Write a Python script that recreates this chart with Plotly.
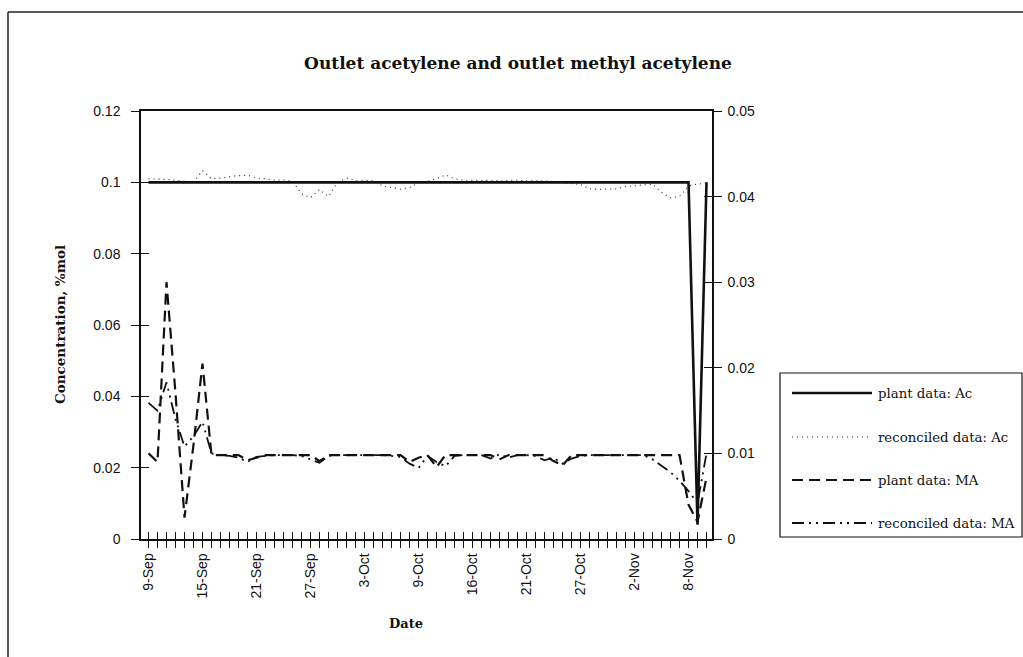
import plotly.graph_objects as go
import pandas as pd

# ---------------- data ----------------
dates = pd.date_range("2001-09-09", "2001-11-10", freq="D")
tick_labels = ["9-Sep", "15-Sep", "21-Sep", "27-Sep", "3-Oct", "9-Oct",
               "16-Oct", "21-Oct", "27-Oct", "2-Nov", "8-Nov"]
tick_dates = list(dates[0:61:6])

plant_ac = [0.1] * 61 + [0.004, 0.1]

recon_ac = [0.1010, 0.1010, 0.1008, 0.1006, 0.1002, 0.1000, 0.1033, 0.1010, 0.1012, 0.1016,
            0.1019, 0.1020, 0.1012, 0.1010, 0.1006, 0.1007, 0.1003, 0.0968, 0.0957, 0.0980,
            0.0960, 0.1000, 0.1012, 0.1006, 0.1005, 0.1004, 0.0990, 0.0986, 0.0981, 0.0985,
            0.0998, 0.1003, 0.1010, 0.1021, 0.1010, 0.1006, 0.1005, 0.1005, 0.1006, 0.1004,
            0.1005, 0.1006, 0.1004, 0.1005, 0.1004, 0.1002, 0.1000, 0.0996, 0.0994, 0.0982,
            0.0980, 0.0981, 0.0982, 0.0988, 0.0990, 0.0993, 0.0995, 0.0972, 0.0957, 0.0960,
            0.0990, 0.0995, 0.0998]

plant_ma = [0.0100, 0.0090, 0.0300, 0.0170, 0.0025, 0.0110, 0.0205, 0.0098, 0.0098, 0.0098,
            0.0098, 0.0092, 0.0095, 0.0098, 0.0098, 0.0098, 0.0098, 0.0098, 0.0098, 0.0091,
            0.0098, 0.0098, 0.0098, 0.0098, 0.0098, 0.0098, 0.0098, 0.0098, 0.0098, 0.0090,
            0.0095, 0.0098, 0.0084, 0.0098, 0.0098, 0.0098, 0.0098, 0.0098, 0.0098, 0.0093,
            0.0098, 0.0098, 0.0098, 0.0098, 0.0098, 0.0091, 0.0086, 0.0098, 0.0098, 0.0098,
            0.0098, 0.0098, 0.0098, 0.0098, 0.0098, 0.0098, 0.0098, 0.0098, 0.0098, 0.0098,
            0.0040, 0.0020, 0.0072]

recon_ma = [0.0159, 0.0150, 0.0183, 0.0140, 0.0108, 0.0120, 0.0137, 0.0100, 0.0098, 0.0097,
            0.0095, 0.0090, 0.0096, 0.0097, 0.0098, 0.0098, 0.0098, 0.0097, 0.0093, 0.0089,
            0.0097, 0.0098, 0.0098, 0.0098, 0.0098, 0.0098, 0.0098, 0.0097, 0.0096, 0.0088,
            0.0083, 0.0097, 0.0090, 0.0085, 0.0097, 0.0098, 0.0098, 0.0098, 0.0094, 0.0099,
            0.0095, 0.0098, 0.0098, 0.0097, 0.0092, 0.0095, 0.0088, 0.0094, 0.0097, 0.0098,
            0.0098, 0.0098, 0.0098, 0.0098, 0.0098, 0.0098, 0.0093, 0.0086, 0.0078, 0.0068,
            0.0056, 0.0042, 0.0100]

series_names = ["plant data: Ac", "reconciled data: Ac", "plant data: MA", "reconciled data: MA"]

# ---------------- geometry helpers ----------------
W, H = 1023, 657
L, R, T, B = 141, 712, 111, 539


def px(x):
    return (x - L) / (R - L)


def py(y):
    return (B - y) / (B - T)


day = pd.Timedelta(days=1)
x_range = [str(dates[0] - 0.833 * day), str(dates[0] + 62.61 * day)]

INK = "#111111"
SERIF = "DejaVu Serif"
SANS = "Liberation Sans"

styles = {
    "plant data: Ac": dict(color=INK, width=2.6, dash="solid"),
    "reconciled data: Ac": dict(color="#333333", width=1.2, dash="1px,4px"),
    "plant data: MA": dict(color=INK, width=2.2, dash="11px,6px"),
    "reconciled data: MA": dict(color=INK, width=1.8, dash="12px,5px,2px,5px,2px,5px"),
}

fig = go.Figure()
fig.add_trace(go.Scatter(x=dates, y=recon_ac, mode="lines", name=series_names[1],
                         line=styles[series_names[1]], xaxis="x", yaxis="y", showlegend=False))
fig.add_trace(go.Scatter(x=dates, y=plant_ac, mode="lines", name=series_names[0],
                         line=styles[series_names[0]], xaxis="x3", yaxis="y3", showlegend=False))
fig.add_trace(go.Scatter(x=dates, y=plant_ma, mode="lines", name=series_names[2],
                         line=styles[series_names[2]], xaxis="x", yaxis="y2", showlegend=False))
fig.add_trace(go.Scatter(x=dates, y=recon_ma, mode="lines", name=series_names[3],
                         line=styles[series_names[3]], xaxis="x3", yaxis="y4", showlegend=False))

tickfont = dict(family=SANS, size=14, color=INK)
common = dict(showgrid=False, zeroline=False, tickcolor=INK, tickwidth=1.2)

fig.update_layout(
    width=W, height=H, autosize=False,
    margin=dict(l=L, r=W - R, t=T, b=H - B, pad=0),
    paper_bgcolor="white", plot_bgcolor="white",
    showlegend=False,
    title=dict(text="<b>Outlet acetylene and outlet methyl acetylene</b>",
               font=dict(family=SERIF, size=17, color=INK),
               x=518 / W, xref="container", xanchor="center",
               y=1 - 63 / H, yref="container", yanchor="middle"),
    xaxis=dict(type="date", range=x_range, anchor="y", showline=True, linecolor=INK,
               linewidth=1.5, mirror=True, ticks="outside", ticklen=7,
               tickmode="array", tickvals=tick_dates, ticktext=tick_labels,
               tickangle=-90, tickfont=tickfont,
               minor=dict(tickmode="linear", tick0=str(dates[0]), dtick=86400000,
                          ticks="outside", ticklen=7, tickwidth=1.2, tickcolor=INK,
                          showgrid=False),
               **common),
    xaxis3=dict(type="date", range=x_range, overlaying="x", anchor="y", side="bottom",
                showline=False, ticks="inside", ticklen=7, tickmode="linear",
                tick0=str(dates[0]), dtick=86400000, showticklabels=False, **common),
    yaxis=dict(range=[0, 0.12], anchor="x", side="left", showline=True, linecolor=INK,
               linewidth=1.5, ticks="outside", ticklen=8, tickmode="linear", tick0=0,
               dtick=0.02, tickfont=tickfont, ticklabelstandoff=8, **common),
    yaxis3=dict(range=[0, 0.12], anchor="x", side="left", overlaying="y", showline=False,
                ticks="inside", ticklen=8, tickmode="linear", tick0=0, dtick=0.02,
                showticklabels=False, **common),
    yaxis2=dict(range=[0, 0.05], anchor="x", side="right", overlaying="y", showline=True,
                linecolor=INK, linewidth=1.5, ticks="outside", ticklen=8, tickmode="linear",
                tick0=0, dtick=0.01, tickfont=tickfont, ticklabelstandoff=3, **common),
    yaxis4=dict(range=[0, 0.05], anchor="x", side="right", overlaying="y", showline=False,
                ticks="inside", ticklen=8, tickmode="linear", tick0=0, dtick=0.01,
                showticklabels=False, **common),
)

# axis titles
fig.add_annotation(text="<b>Date</b>", x=px(406), y=py(623), xref="paper", yref="paper",
                   showarrow=False, xanchor="center", yanchor="middle",
                   font=dict(family=SERIF, size=13, color=INK))
fig.add_annotation(text="<b>Concentration, %mol</b>", x=px(60), y=py(325), xref="paper",
                   yref="paper", showarrow=False, textangle=-90, xanchor="center",
                   yanchor="middle", font=dict(family=SERIF, size=13.5, color=INK))

shapes = []
# outer chart frame (left and top edges visible)
shapes.append(dict(type="line", xref="paper", yref="paper", x0=px(8), x1=px(8),
                   y0=py(12), y1=py(700), line=dict(color="#222222", width=1.5)))
shapes.append(dict(type="line", xref="paper", yref="paper", x0=px(8), x1=px(1040),
                   y0=py(12), y1=py(12), line=dict(color="#222222", width=1.5)))
# legend box
shapes.append(dict(type="rect", xref="paper", yref="paper", x0=px(780), x1=px(1022),
                   y0=py(537), y1=py(373), line=dict(color=INK, width=1.2),
                   fillcolor="white"))
legend_y = [393, 437, 480, 523]
for name, yy in zip(series_names, legend_y):
    st = styles[name]
    shapes.append(dict(type="line", xref="paper", yref="paper", x0=px(792), x1=px(872),
                       y0=py(yy), y1=py(yy),
                       line=dict(color=st["color"], width=st["width"], dash=st["dash"])))
    fig.add_annotation(text=name, x=px(876), y=py(yy), xref="paper", yref="paper",
                       showarrow=False, xanchor="left", yanchor="middle",
                       font=dict(family=SERIF, size=13.3, color=INK))
fig.update_layout(shapes=shapes)

fig.write_html("out.html")
